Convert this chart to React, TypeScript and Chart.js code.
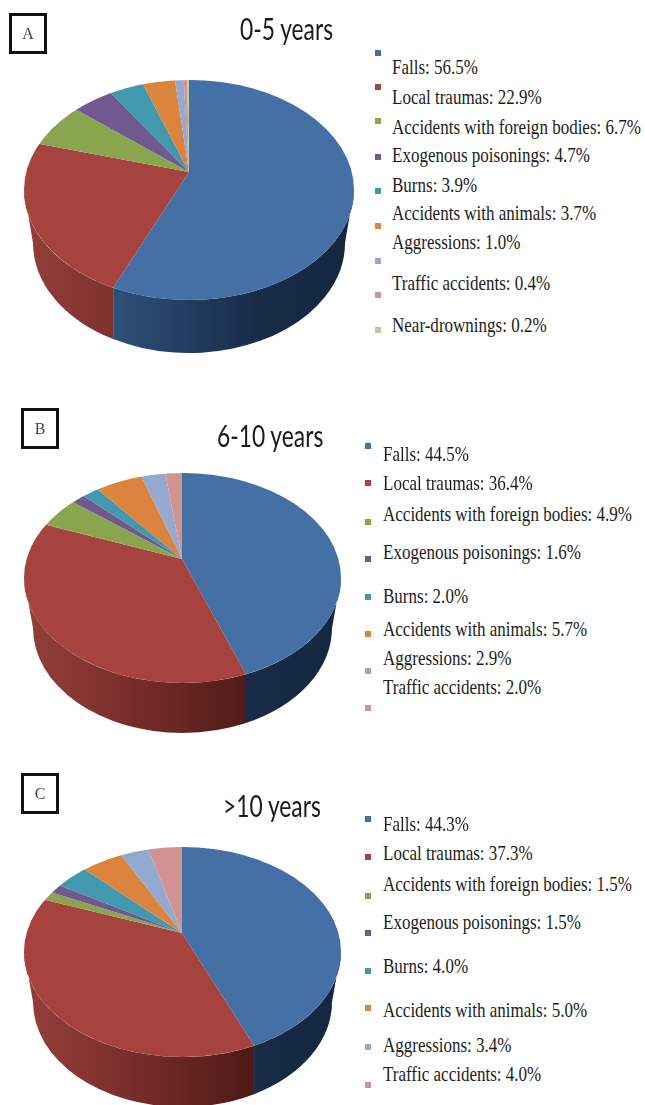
import React, { useEffect, useRef } from "react";
import { Chart, registerables } from "chart.js";

Chart.register(...registerables);

const categories = [
  "Falls",
  "Local traumas",
  "Accidents with foreign bodies",
  "Exogenous poisonings",
  "Burns",
  "Accidents with animals",
  "Aggressions",
  "Traffic accidents",
  "Near-drownings",
];
const valuesA = [56.5, 22.9, 6.7, 4.7, 3.9, 3.7, 1.0, 0.4, 0.2];
const valuesB = [44.5, 36.4, 4.9, 1.6, 2.0, 5.7, 2.9, 2.0];
const valuesC = [44.3, 37.3, 1.5, 1.5, 4.0, 5.0, 3.4, 4.0];
const colors = ["#4470a6", "#a6433f", "#89a54e", "#71588f", "#4198af", "#db843d", "#93a9cf", "#d19392", "#b9cd96"];

const panels = [
  {
    letter: "A", title: "0-5 years", values: valuesA, top: 0, height: 368,
    cx: 189, cy: 190, rx: 165, ry: 110, ax: 189, ay: 172, squash: 0.66, depth: 53,
    box: [9, 13], titlePos: [240, 28],
    markerX: 378, markerY: [53, 87, 121, 157, 191, 226, 261, 295, 330],
    textX: 392, textY: [67, 97, 127, 155, 185, 213, 242, 283, 325],
  },
  {
    letter: "B", title: "6-10 years", values: valuesB, top: 400, height: 340,
    cx: 182.5, cy: 578, rx: 158.5, ry: 105, ax: 182, ay: 559, squash: 0.648, depth: 50,
    box: [21, 408], titlePos: [217, 435],
    markerX: 368, markerY: [446, 483, 522, 559, 597, 634, 671, 708],
    textX: 383, textY: [454, 483, 514, 552, 596, 629, 658, 687],
  },
  {
    letter: "C", title: ">10 years", values: valuesC, top: 765, height: 340,
    cx: 182.5, cy: 952, rx: 158.5, ry: 105, ax: 182, ay: 933, squash: 0.635, depth: 50,
    box: [21, 773], titlePos: [223, 805],
    markerX: 368, markerY: [819, 857, 896, 933, 971, 1008, 1047, 1085],
    textX: 383, textY: [824, 853, 884, 922, 966, 1010, 1045, 1074],
  },
];

type Panel = (typeof panels)[number];

function makePiePlugin(p: Panel) {
  const cx = p.cx, cy = p.cy - p.top, ax = p.ax, ay = p.ay - p.top;
  const bottomRx = p.rx - 9;
  const rimAngle = (theta: number) => {
    const dx = Math.cos(theta) / p.rx, dy = (p.squash * Math.sin(theta)) / p.ry;
    const ox = (ax - cx) / p.rx, oy = (ay - cy) / p.ry;
    const a = dx * dx + dy * dy, b = 2 * (ox * dx + oy * dy), c = ox * ox + oy * oy - 1;
    const t = (-b + Math.sqrt(b * b - 4 * a * c)) / (2 * a);
    return Math.atan2(oy + t * dy, ox + t * dx);
  };
  const bottomAngle = (phi: number) => {
    const c = (p.rx * Math.cos(phi)) / bottomRx;
    return Math.acos(Math.max(-1, Math.min(1, c)));
  };
  return {
    id: "pie3d",
    beforeDatasetsDraw(chart: any) {
      const ctx = chart.ctx;
      const arcs = chart.getDatasetMeta(0).data;
      arcs.forEach((arc: any, i: number) => {
        let a0 = rimAngle(arc.startAngle);
        if (a0 < -Math.PI / 2 - 0.1) a0 += 2 * Math.PI;
        let a1 = rimAngle(arc.endAngle);
        while (a1 < a0) a1 += 2 * Math.PI;
        const from = Math.max(a0, 0), to = Math.min(a1, Math.PI);
        if (to <= from) return;
        const g = ctx.createLinearGradient(cx - p.rx, 0, cx + p.rx, 0);
        if (i === 0) {
          g.addColorStop(0, "#35598a");
          g.addColorStop(0.27, "#2f5079");
          g.addColorStop(0.7, "#182c48");
          g.addColorStop(1, "#14263f");
        } else {
          g.addColorStop(0, "#933f3a");
          g.addColorStop(0.27, "#7f312e");
          g.addColorStop(0.7, "#501b19");
          g.addColorStop(1, "#451614");
        }
        ctx.save();
        ctx.beginPath();
        ctx.ellipse(cx, cy, p.rx, p.ry, 0, from, to);
        ctx.ellipse(cx, cy + p.depth, bottomRx, p.ry, 0, bottomAngle(to), bottomAngle(from), true);
        ctx.closePath();
        ctx.fillStyle = g;
        ctx.fill();
        ctx.restore();
      });
      const first = arcs[0];
      const k = (p.rx * 1.5) / first.outerRadius;
      ctx.save();
      ctx.beginPath();
      ctx.ellipse(cx, cy, p.rx, p.ry, 0, 0, Math.PI * 2);
      ctx.clip();
      ctx.translate(ax, ay);
      ctx.scale(k, k * p.squash);
      ctx.translate(-first.x, -first.y);
    },
    afterDatasetsDraw(chart: any) {
      chart.ctx.restore();
    },
  };
}

function Pie({ panel }: { panel: Panel }) {
  const ref = useRef<HTMLCanvasElement>(null);
  useEffect(() => {
    const chart = new Chart(ref.current!, {
      type: "pie",
      data: {
        labels: categories.slice(0, panel.values.length),
        datasets: [{
          data: panel.values,
          backgroundColor: colors,
          borderWidth: 0,
          clip: false,
        } as any],
      },
      options: {
        animation: false,
        responsive: false,
        plugins: { legend: { display: false }, tooltip: { enabled: false } },
      },
      plugins: [makePiePlugin(panel)],
    });
    return () => chart.destroy();
  }, [panel]);
  return (
    <canvas
      ref={ref}
      width={365}
      height={panel.height}
      style={{ position: "absolute", left: 0, top: panel.top, width: 365, height: panel.height }}
    />
  );
}

const stretched = (x: number, y: number, scale: number): React.CSSProperties => ({
  position: "absolute",
  left: x,
  top: y,
  whiteSpace: "nowrap",
  lineHeight: 1,
  transformOrigin: "0 50%",
  transform: `translateY(-50%) scaleX(${scale})`,
});

export default function App() {
  return (
    <div
      style={{
        position: "absolute", left: 0, top: 0, width: 645, height: 1105,
        overflow: "hidden", background: "#fff", filter: "blur(0.5px)",
      }}
    >
      {panels.map((p) => (
        <React.Fragment key={p.letter}>
          <Pie panel={p} />
          <div
            style={{
              position: "absolute", left: p.box[0], top: p.box[1], width: 32, height: 35,
              border: "3px solid #111", display: "flex", alignItems: "center", justifyContent: "center",
              fontFamily: "'Liberation Serif', serif", fontSize: 16, color: "#444",
            }}
          >
            {p.letter}
          </div>
          <div style={{ ...stretched(p.titlePos[0], p.titlePos[1], 0.735), fontFamily: "Lato, sans-serif", fontSize: 31, color: "#1a1a1a" }}>
            {p.title}
          </div>
          {p.values.map((v, i) => (
            <React.Fragment key={i}>
              <div
                style={{
                  position: "absolute", left: p.markerX - 3, top: p.markerY[i] - 3, width: 6, height: 6,
                  background: colors[i],
                }}
              />
              <div style={{ ...stretched(p.textX, p.textY[i], 0.81), fontFamily: "'Liberation Serif', serif", fontSize: 21, color: "#1c1c1c" }}>
                {`${categories[i]}: ${v.toFixed(1)}%`}
              </div>
            </React.Fragment>
          ))}
        </React.Fragment>
      ))}
    </div>
  );
}
